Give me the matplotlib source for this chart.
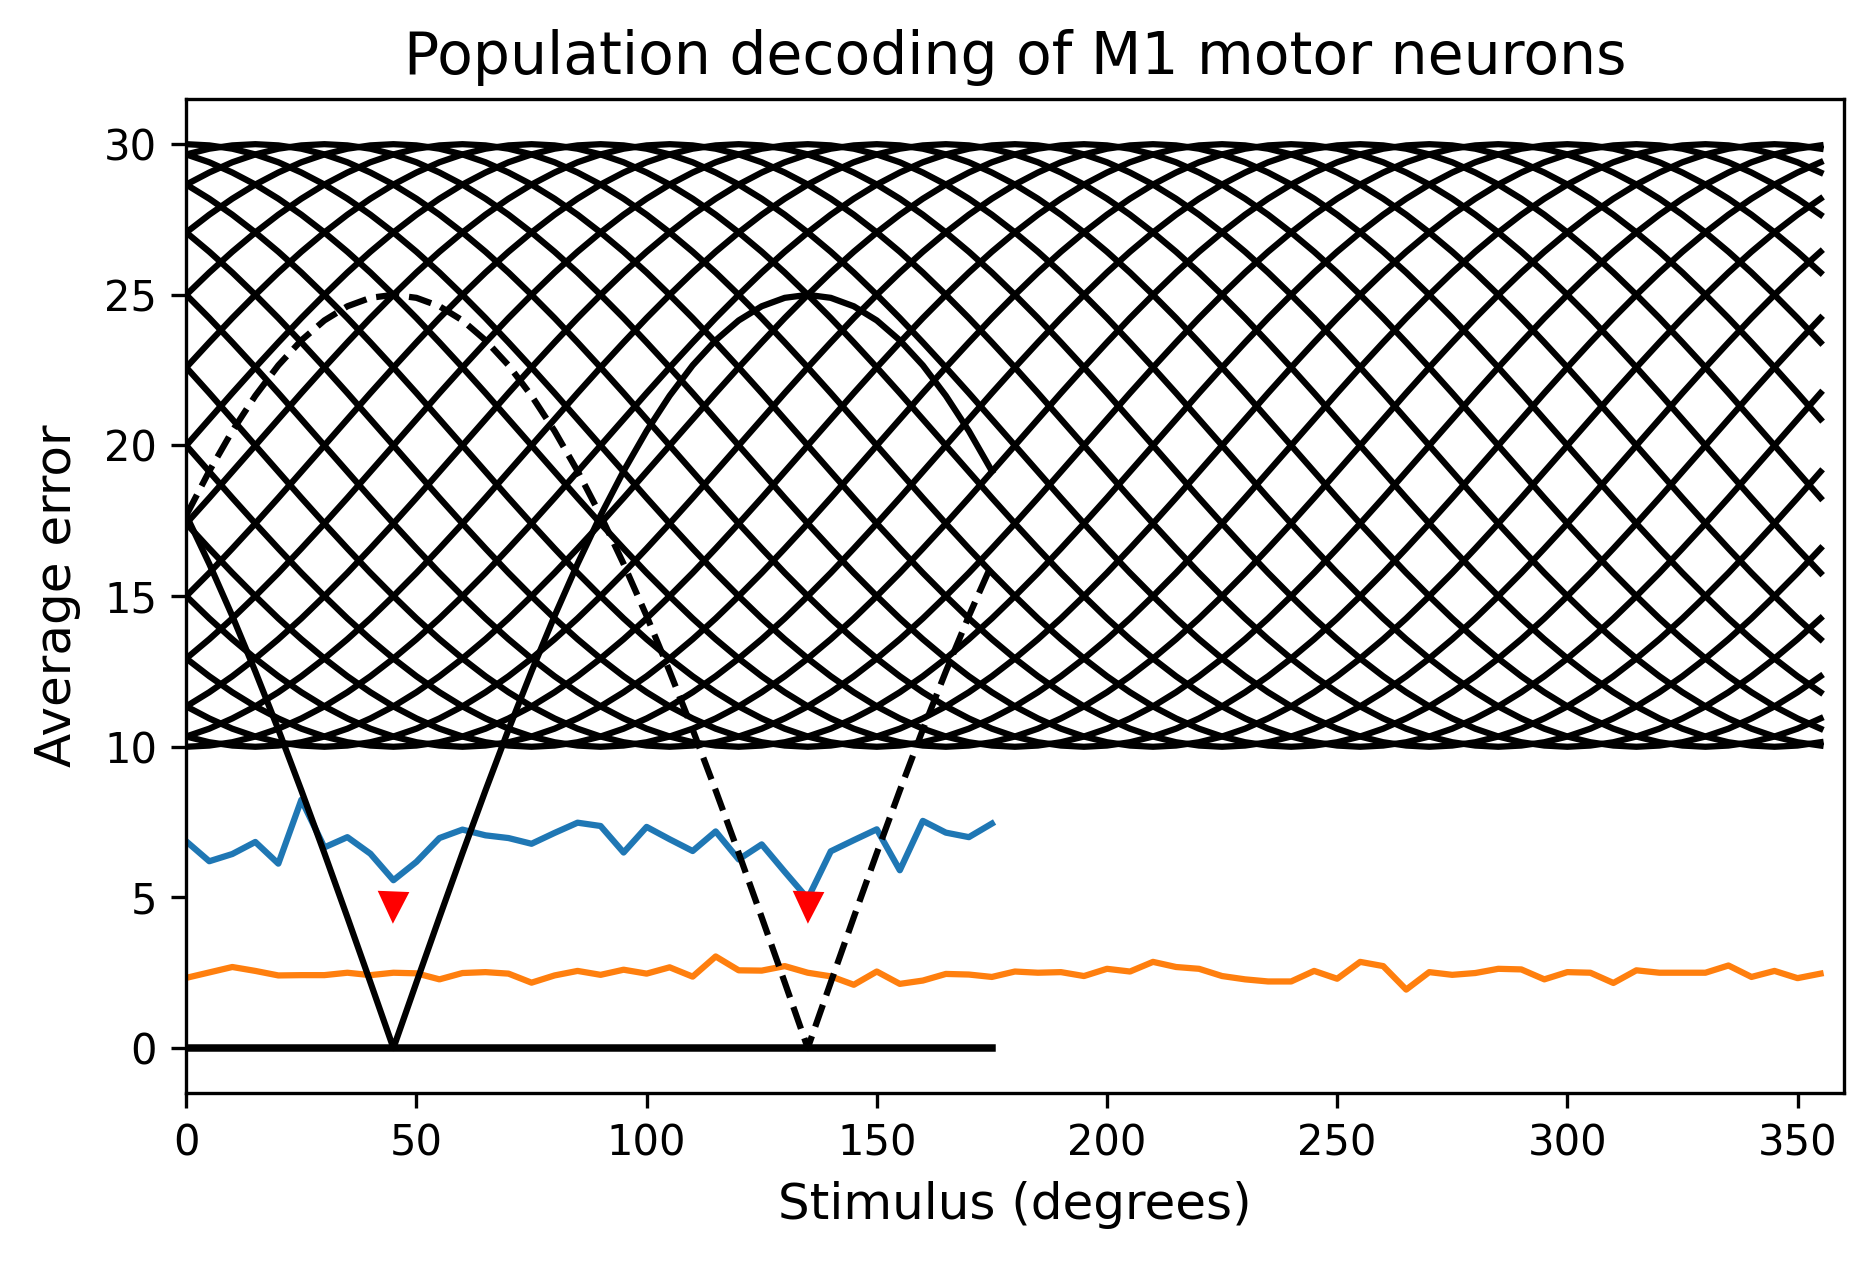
import numpy as np
import matplotlib
matplotlib.use('Agg')
import matplotlib.pyplot as plt

# stimulus grid (degrees)
stim_full = list(range(0, 360, 5))
stim_half = list(range(0, 180, 5))

# tuning curve shape vs distance from preferred direction (0..180 step 5)
tuning_shape = [30.0, 29.96, 29.85, 29.66, 29.40, 29.06, 28.66, 28.19, 27.66, 27.07,
                26.43, 25.74, 25.0, 24.23, 23.42, 22.59, 21.74, 20.87, 20.0, 19.13,
                18.26, 17.41, 16.58, 15.77, 15.0, 14.26, 13.57, 12.93, 12.34, 11.81,
                11.34, 10.94, 10.60, 10.34, 10.15, 10.04, 10.0]
preferred = list(range(0, 360, 15))

# rectified responses of the two example neurons
neuron_45 = [17.68, 19.15, 20.48, 21.65, 22.66, 23.49, 24.15, 24.62, 24.90, 25.0,
             24.90, 24.62, 24.15, 23.49, 22.66, 21.65, 20.48, 19.15, 17.68, 16.07,
             14.34, 12.5, 10.57, 8.55, 6.47, 4.34, 2.18, 0.0, 2.18, 4.34,
             6.47, 8.55, 10.57, 12.5, 14.34, 16.07]
neuron_135 = [17.68, 16.07, 14.34, 12.5, 10.57, 8.55, 6.47, 4.34, 2.18, 0.0,
              2.18, 4.34, 6.47, 8.55, 10.57, 12.5, 14.34, 16.07, 17.68, 19.15,
              20.48, 21.65, 22.66, 23.49, 24.15, 24.62, 24.90, 25.0, 24.90, 24.62,
              24.15, 23.49, 22.66, 21.65, 20.48, 19.15]
baseline = [0.0] * len(stim_half)

# decoding errors
err_two = [6.86, 6.2, 6.44, 6.84, 6.12, 8.24, 6.66, 7.0, 6.45, 5.57,
           6.18, 6.97, 7.25, 7.06, 6.97, 6.78, 7.14, 7.48, 7.37, 6.49,
           7.34, 6.93, 6.54, 7.19, 6.26, 6.76, 5.85, 4.96, 6.53, 6.9,
           7.26, 5.9, 7.54, 7.15, 7.0, 7.45]
err_pop = [2.33, 2.51, 2.69, 2.56, 2.41, 2.42, 2.42, 2.5, 2.42, 2.5,
           2.48, 2.28, 2.49, 2.52, 2.47, 2.17, 2.41, 2.56, 2.43, 2.6,
           2.47, 2.68, 2.37, 3.04, 2.58, 2.57, 2.72, 2.5, 2.38, 2.1,
           2.54, 2.13, 2.24, 2.46, 2.44, 2.36, 2.54, 2.5, 2.52, 2.39,
           2.63, 2.54, 2.86, 2.69, 2.63, 2.39, 2.28, 2.21, 2.21, 2.56,
           2.3, 2.86, 2.72, 1.94, 2.52, 2.43, 2.49, 2.63, 2.61, 2.28,
           2.52, 2.5, 2.16, 2.58, 2.5, 2.5, 2.5, 2.74, 2.36, 2.56,
           2.32, 2.47]

marker_x = [45, 135]
marker_y = [4.7, 4.7]


def tuning_curve(pref):
    resp = []
    for s in stim_full:
        d = abs(s - pref) % 360
        d = min(d, 360 - d)
        resp.append(tuning_shape[d // 5])
    return resp


fig = plt.figure(figsize=(6.24, 4.23), dpi=300)
ax = fig.add_axes([0.0995, 0.1385, 0.8853, 0.7835])

ax.plot(stim_half, err_two)
ax.plot(stim_full, err_pop)

for p in preferred:
    ax.plot(stim_full, tuning_curve(p), 'k')

ax.plot(stim_half, neuron_45, 'k--')
ax.plot(stim_half, neuron_135, 'k')
ax.plot(stim_half, baseline, 'k', lw=1.8)

ax.plot(marker_x, marker_y, 'rv')

ax.set_xlim(0, 360)
ax.set_title('Population decoding of M1 motor neurons', fontsize=14)
ax.set_xlabel('Stimulus (degrees)', fontsize=12)
ax.set_ylabel('Average error', fontsize=12, labelpad=5.5)

fig.savefig('out.png', dpi=300)
